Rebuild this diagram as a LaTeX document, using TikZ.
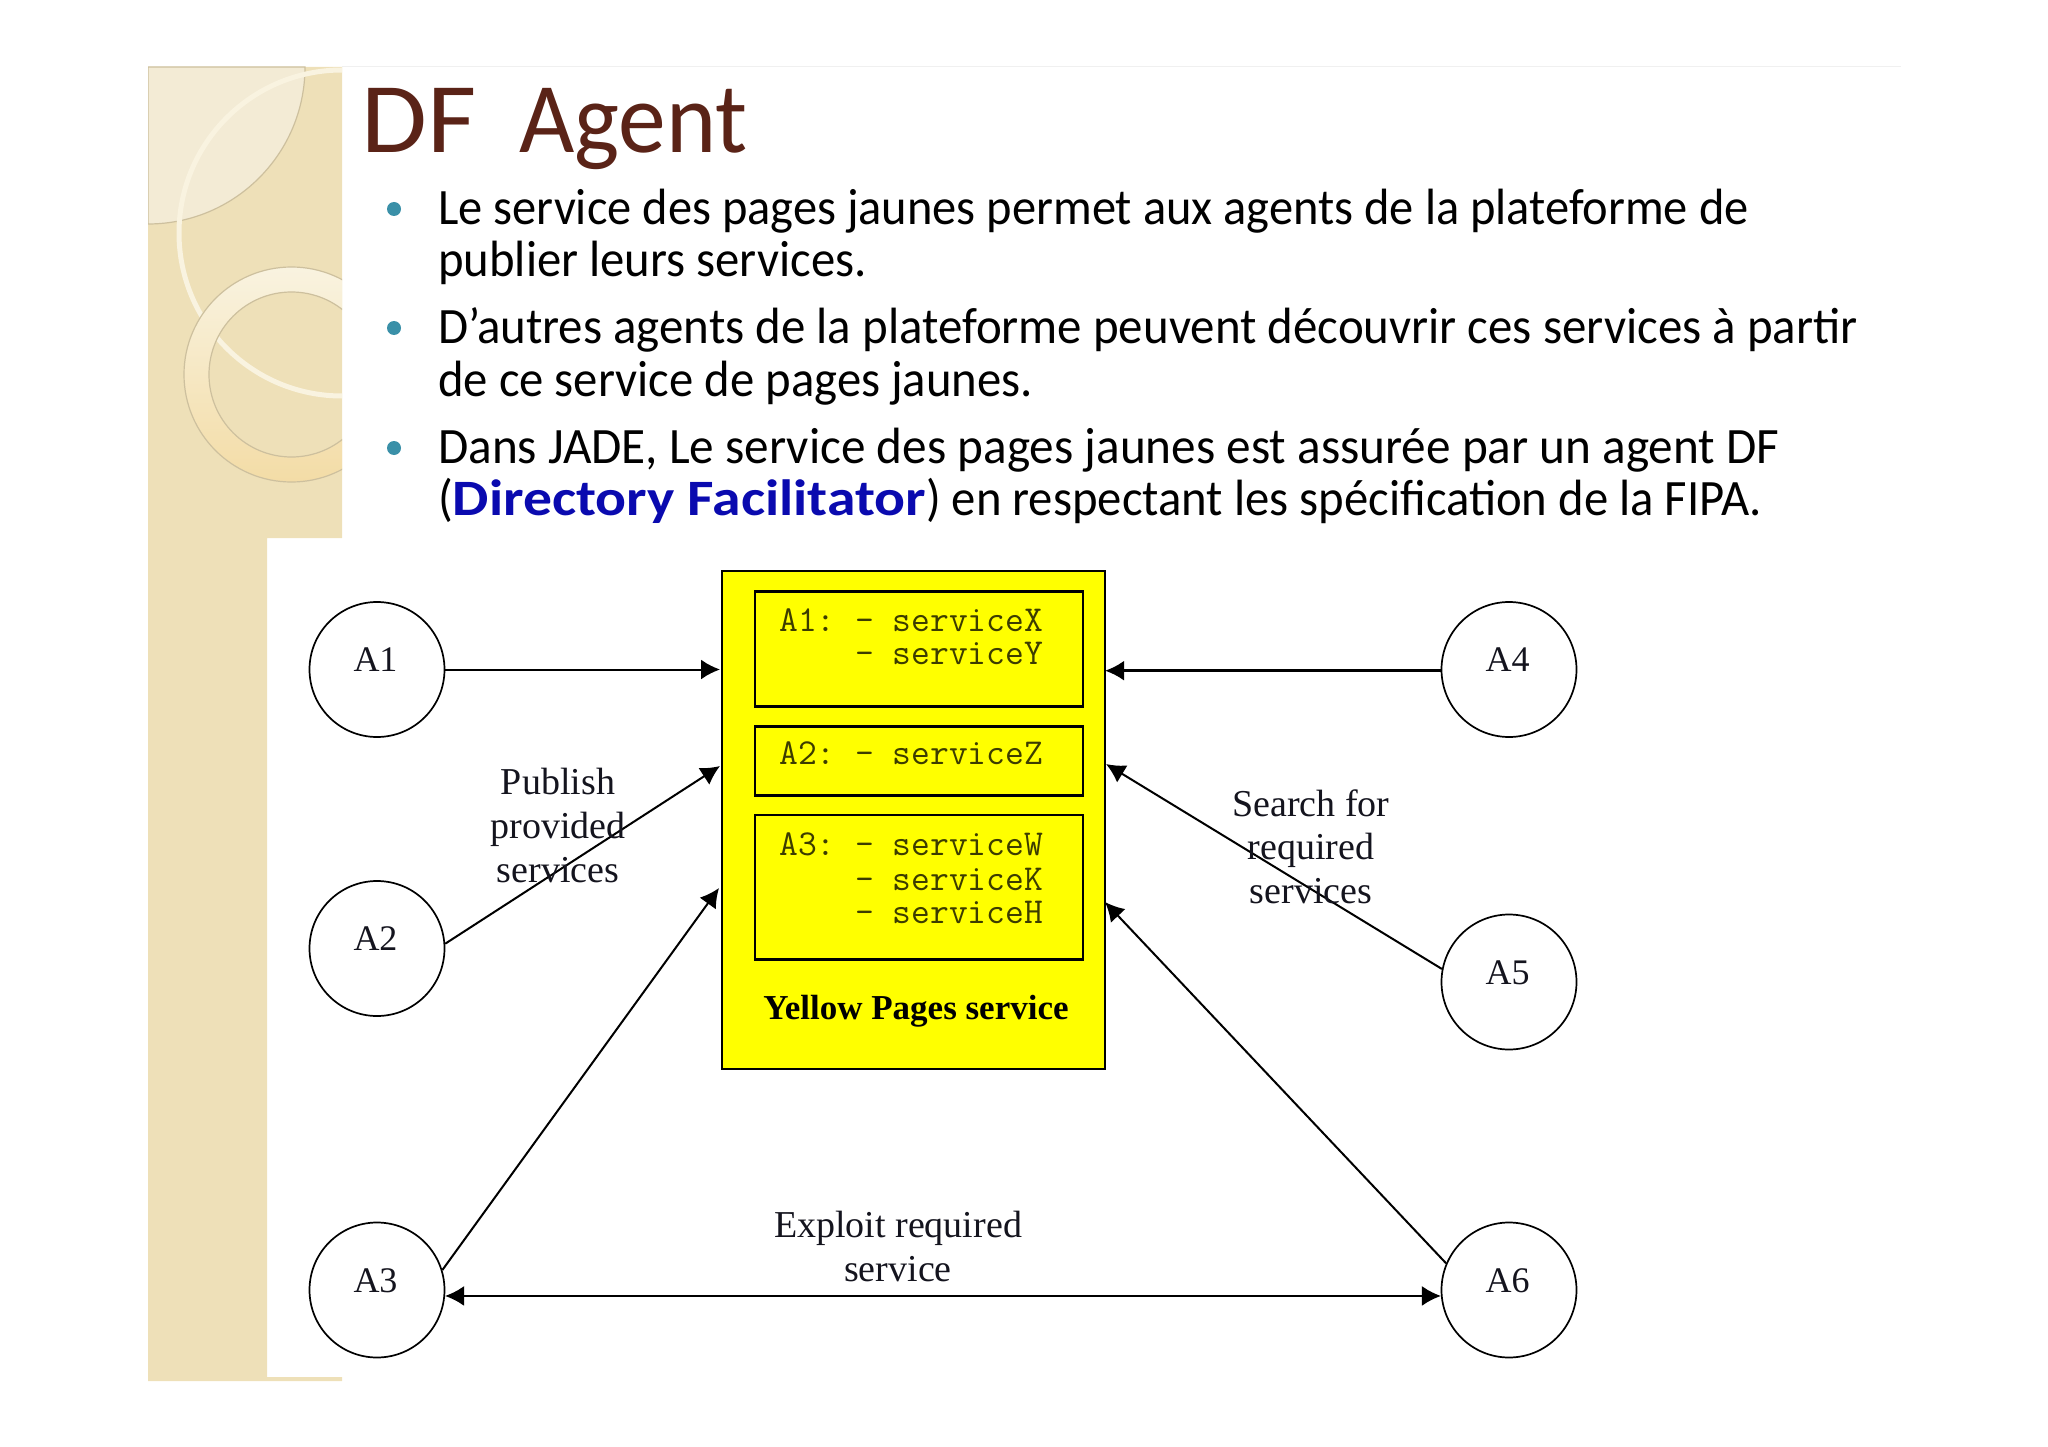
\documentclass[tikz,border=0pt]{standalone}
\usepackage{fontspec}
\setmainfont[FakeStretch=0.955]{Carlito}
\newfontfamily\titlewide[FakeStretch=1.07]{Carlito}
\newfontfamily\bodyfa[FakeStretch=0.95]{Carlito}
\newfontfamily\bodyfb[FakeStretch=0.959]{Carlito}
\newfontfamily\bodyfc[FakeStretch=0.965]{Carlito}
\newfontfamily\blueface[FakeStretch=1.13]{Carlito}
\newfontfamily\timesfont{Liberation Serif}
\usetikzlibrary{arrows.meta}
\definecolor{df-panel}{RGB}{238,224,184}
\definecolor{df-leaf}{RGB}{243,235,213}
\definecolor{df-edge}{RGB}{205,192,158}
\definecolor{df-arc}{RGB}{249,243,224}
\definecolor{df-ring}{RGB}{243,220,166}
\definecolor{df-title}{RGB}{90,35,23}
\definecolor{df-bullet}{RGB}{58,144,168}
\definecolor{df-blue}{RGB}{10,10,175}
\definecolor{df-ink}{RGB}{20,20,30}
\definecolor{df-olive}{RGB}{60,60,0}
\definecolor{df-yellow}{RGB}{255,255,0}
\tikzset{
  bodyline/.style={anchor=base west,inner sep=0pt,font=\fontsize{51}{60}\selectfont},
  agent/.style={draw,circle,line width=1.7pt,minimum size=135pt,inner sep=0pt,text height=29pt,text depth=25pt,text=df-ink,font=\timesfont\fontsize{36}{40}\selectfont},
  srvbox/.style={draw,line width=2.8pt,anchor=north west,inner sep=0pt,outer sep=0pt},
  srvline/.style={anchor=base west,inner sep=0pt,text=df-olive,font=\ttfamily\fontsize{36.5}{40}\selectfont},
  note/.style={anchor=base,inner sep=0pt,text=df-ink,font=\timesfont\fontsize{38}{40}\selectfont},
  link/.style={line width=2pt,-{Latex[length=19pt,width=20pt]}},
  dot/.style={circle,fill=df-bullet,minimum size=14pt,inner sep=0pt}
}
\begin{document}
\begin{tikzpicture}[x=1pt,y=-1pt]
\useasboundingbox (0,0) rectangle (2048,1447);
%Hintergrund:
\draw[line width=1pt,black!6] (342,67) -- (1901,67);
\fill[df-panel] (148,67) -- (342,67) -- (342,538) -- (267,538) -- (267,1377) -- (342,1377) -- (342,1381) -- (148,1381) -- cycle;
\begin{scope}
\clip (148,67) rectangle (342,538);
\filldraw[df-edge,fill=df-leaf,line width=1.2pt] (148,67) -- (305,67) arc[start angle=0,end angle=90,radius=157] -- cycle;
\draw[df-arc,line width=5pt] (342,233) circle[radius=163];
\shade[even odd rule,top color=df-arc,bottom color=df-ring] (291.5,374.5) circle[radius=107.5] (291.5,374.5) circle[radius=82.5];
\draw[df-edge,line width=1.2pt] (291.5,374.5) circle[radius=107.5] (291.5,374.5) circle[radius=82.5];
\end{scope}
%Titel:
\node[anchor=base west,inner sep=0pt,text=df-title,font=\fontsize{100}{110}\selectfont] (title) at (361,153) {{\titlewide DF}\ \ Agent};
%Text:
\node[dot] (dot1) at (394,209) {};
\node[dot] (dot2) at (394,328) {};
\node[dot] (dot3) at (394,448) {};
\node[bodyline] (line1) at (438,225) {\bodyfa Le service des pages jaunes permet aux agents de la plateforme de};
\node[bodyline] (line2) at (438,277) {publier leurs services.};
\node[bodyline] (line3) at (438,344) {\bodyfb D’autres agents de la plateforme peuvent découvrir ces services à partir};
\node[bodyline] (line4) at (438,396) {de ce service de pages jaunes.};
\node[bodyline] (line5) at (438,463) {\bodyfc Dans JADE, Le service des pages jaunes est assurée par un agent DF};
\node[bodyline] (line6) at (438,515) {({\blueface\textcolor{df-blue}{\bfseries Directory Facilitator}}) en respectant les spécification de la FIPA.};
%Yellow Pages:
\node[draw,line width=2.8pt,fill=df-yellow,anchor=north west,inner sep=0pt,outer sep=0pt,minimum width=383pt,minimum height=498pt] (pages) at (722,571) {};
\node[srvbox,minimum width=328pt,minimum height=115pt] (boxA) at (755,591.5) {};
\node[srvbox,minimum width=328pt,minimum height=69pt] (boxB) at (755,726.5) {};
\node[srvbox,minimum width=328pt,minimum height=144.5pt] (boxC) at (755,815) {};
\node[srvline] (tagA) at (779,631) {A1:};
\node[srvline] (srvX) at (855,631) {- serviceX};
\node[srvline] (srvY) at (855,664.5) {- serviceY};
\node[srvline] (tagB) at (779,764) {A2:};
\node[srvline] (srvZ) at (855,764) {- serviceZ};
\node[srvline] (tagC) at (779,855) {A3:};
\node[srvline] (srvW) at (855,855) {- serviceW};
\node[srvline] (srvK) at (855,890) {- serviceK};
\node[srvline] (srvH) at (855,923) {- serviceH};
\node[anchor=base,inner sep=0pt,font=\timesfont\bfseries\fontsize{35}{40}\selectfont] (ypname) at (916,1019) {Yellow Pages service};
%Agenten:
\node[agent] (a1) at (377,669.5) {A1\kern3pt};
\node[agent] (a2) at (377,948.5) {A2\kern3pt};
\node[agent] (a3) at (377,1290) {A3\kern3pt};
\node[agent] (a4) at (1509,669.5) {A4\kern3pt};
\node[agent] (a5) at (1509,982) {A5\kern3pt};
\node[agent] (a6) at (1509,1290) {A6\kern3pt};
%Pfeile:
\coordinate (inA2) at (720,766);
\coordinate (inA3) at (719,888);
\coordinate (inA5) at (1106,764);
\coordinate (inA6) at (1105,902);
\draw[link,shorten >=2pt] (a1.east) -- (a1.east -| pages.west);
\draw[link] (a2.4) -- (inA2);
\draw[link] (a3.17) -- (inA3);
\draw[link,line width=2.6pt] (a4.181) -- (a4.181 -| pages.east);
\draw[link] (a5.169) -- (inA5);
\draw[link] (a6.157) -- (inA6);
\draw[link,{Latex[length=19pt,width=20pt]}-{Latex[length=19pt,width=20pt]}] (a3.-5) -- (a6.185);
%Beschriftung:
\node[note] (pub1) at (558,794) {Publish};
\node[note] (pub2) at (558,838) {provided};
\node[note] (pub3) at (558,882) {services};
\node[note] (sea1) at (1311,816) {Search for};
\node[note] (sea2) at (1311,859) {required};
\node[note] (sea3) at (1311,903) {services};
\node[note] (exp1) at (898,1237) {Exploit required};
\node[note] (exp2) at (898,1281) {service};
\end{tikzpicture}
\end{document}
